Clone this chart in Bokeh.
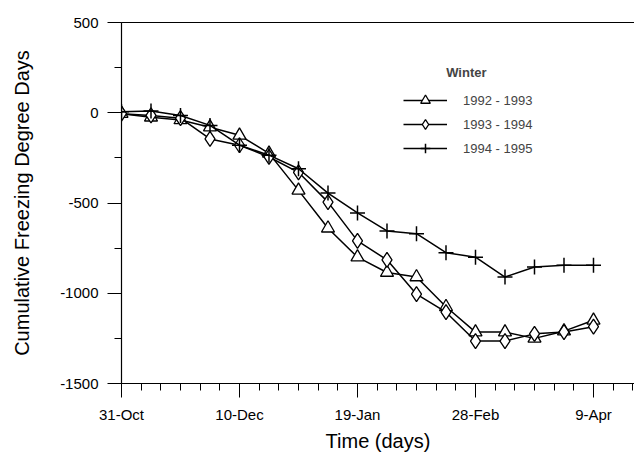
from bokeh.plotting import figure
from bokeh.models import FixedTicker, Legend, LegendItem, Label, LinearAxis, Range1d
from bokeh.embed import file_html
from bokeh.resources import INLINE

# ---- data (days since 31-Oct) ----
days = [0, 10, 20, 30, 40, 50, 60, 70, 80, 90, 100, 110, 120, 130, 140, 150, 160]
w_1992_1993 = [-5, -25, -40, -80, -125, -225, -430, -640, -800, -885, -910, -1075, -1215, -1215, -1250, -1210, -1150]
w_1993_1994 = [-5, -15, -30, -145, -180, -245, -330, -495, -710, -815, -1005, -1105, -1265, -1265, -1225, -1215, -1185]
w_1994_1995 = [5, 10, -15, -70, -180, -235, -310, -445, -555, -655, -670, -775, -800, -910, -855, -845, -845]
series_names = ["1992 - 1993", "1993 - 1994", "1994 - 1995"]

x_tick_days = [0, 40, 80, 120, 160]
x_tick_labels = ["31-Oct", "10-Dec", "19-Jan", "28-Feb", "9-Apr"]
x_minor_days = [i * 20 / 3 for i in range(27)]
y_ticks = [-1500, -1000, -500, 0, 500]
y_tick_labels = ["-1500", "-1000", "-500", "0", "500"]
y_minor = [-1500, -1250, -1000, -750, -500, -250, 0, 250, 500]

FONT = "Liberation Sans"

p = figure(width=634, height=454, output_backend="svg", toolbar_location=None,
           x_range=Range1d(0, 173.9), y_range=Range1d(-1500, 500),
           min_border_left=121, min_border_right=0, min_border_top=22, min_border_bottom=69)
p.outline_line_color = None
p.xgrid.visible = False
p.ygrid.visible = False

for ax in (p.xaxis[0], p.yaxis[0]):
    ax.axis_line_color = "black"
    ax.axis_line_width = 1.2
    ax.major_tick_in = 0
    ax.major_tick_out = 14
    ax.minor_tick_in = 0
    ax.minor_tick_out = 7
    ax.major_tick_line_color = "black"
    ax.minor_tick_line_color = "black"
    ax.major_label_text_font = FONT
    ax.major_label_text_font_size = "15px"
    ax.major_label_text_color = "black"
    ax.axis_label_text_font = FONT
    ax.axis_label_text_font_size = "20px"
    ax.axis_label_text_font_style = "normal"
    ax.axis_label_text_color = "black"

p.xaxis[0].ticker = FixedTicker(ticks=x_tick_days, minor_ticks=x_minor_days)
p.xaxis[0].major_label_overrides = {d: l for d, l in zip(x_tick_days, x_tick_labels)}
p.xaxis[0].axis_label = "Time (days)"
p.xaxis[0].major_label_standoff = 8
p.xaxis[0].axis_label_standoff = 4

p.yaxis[0].ticker = FixedTicker(ticks=y_ticks, minor_ticks=y_minor)
p.yaxis[0].major_label_overrides = {v: l for v, l in zip(y_ticks, y_tick_labels)}
p.yaxis[0].axis_label = "Cumulative Freezing Degree Days"
p.yaxis[0].major_label_standoff = 9
p.yaxis[0].axis_label_standoff = 24

top = LinearAxis(ticker=FixedTicker(ticks=[]), major_label_text_font_size="0px",
                 major_tick_line_color=None, minor_tick_line_color=None,
                 axis_line_color="black", axis_line_width=1.2)
p.add_layout(top, "above")

r1l = p.line(days, w_1992_1993, line_color="black", line_width=1.5)
r1m = p.scatter(days, w_1992_1993, marker="triangle", size=13, fill_color="white",
                line_color="black", line_width=1.3)
r2l = p.line(days, w_1993_1994, line_color="black", line_width=1.5)
r2m = p.scatter(days, w_1993_1994, marker="diamond", size=15,
                fill_color="white", line_color="black", line_width=1.3)
r3l = p.line(days, w_1994_1995, line_color="black", line_width=1.5)
r3m = p.scatter(days, w_1994_1995, marker="cross", size=15, line_color="black", line_width=1.5)

legend = Legend(items=[
    LegendItem(label=series_names[0], renderers=[r1l, r1m]),
    LegendItem(label=series_names[1], renderers=[r2l, r2m]),
    LegendItem(label=series_names[2], renderers=[r3l, r3m]),
], location=(282, 223), border_line_color=None, background_fill_alpha=0,
    padding=0, margin=0, spacing=0, glyph_width=44, glyph_height=24, label_height=24,
    label_standoff=16, label_text_font=FONT, label_text_font_size="13px")
p.add_layout(legend)

p.add_layout(Label(x=116.9, y=224.5, text="Winter", text_font=FONT, text_font_size="13px",
                   text_font_style="bold", text_align="center", text_baseline="middle"))

open("out.html", "w").write(file_html(p, INLINE))
